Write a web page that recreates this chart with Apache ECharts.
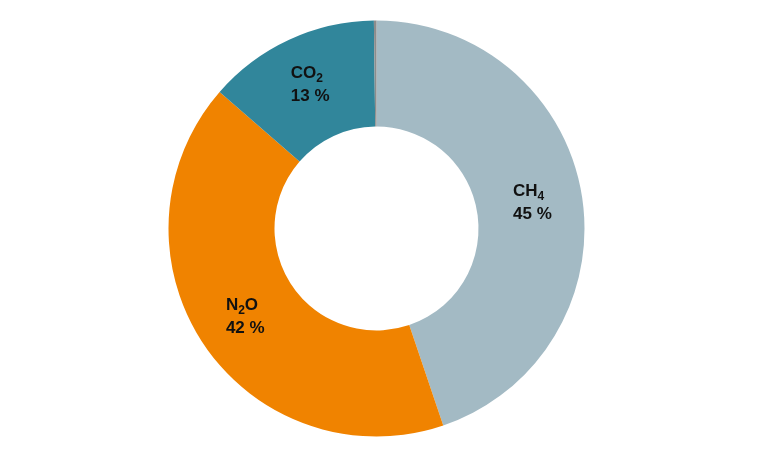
<!DOCTYPE html>
<html>
<head>
<meta charset="utf-8">
<script src="https://cdn.jsdelivr.net/npm/echarts@6/dist/echarts.min.js"></script>
<style>
  html, body { margin: 0; padding: 0; background: #fff; }
  #container { width: 780px; height: 451px; }
</style>
</head>
<body>
<div id="container"></div>
<script>
var dom = document.getElementById("container");
var myChart = echarts.init(dom);
var option;

// gas names (main part + subscript), shares in percent
var gasNames = ["CH4", "N2O", "CO2", "other"];
var gasMain = ["CH", "N", "CO", ""];
var gasSub = ["4", "2", "2", ""];
var gasTail = ["", "O", "", ""];
var gasValues = [44.8, 41.6, 13.4, 0.2];
var gasColors = ["#a3bac4", "#f08300", "#31869b", "#8c8c8c"];

var pieData = [];
for (var i = 0; i < gasNames.length; i++) {
  pieData.push({
    name: gasNames[i],
    value: gasValues[i],
    itemStyle: { color: gasColors[i] },
    label: { show: gasMain[i] !== "" },
  });
}

// label text with subscript for the chemical formula
function labelText(p) {
  var i = p.dataIndex;
  var s = "{m|" + gasMain[i] + "}{s|" + gasSub[i] + "}";
  if (gasTail[i]) s += "{m|" + gasTail[i] + "}";
  return s + "\n{m|" + Math.round(gasValues[i]) + " %}";
}

option = {
  animation: false,
  backgroundColor: "#ffffff",
  series: [
    {
      type: "pie",
      center: [376.5, 228.5],
      radius: [102, 208],
      startAngle: 90,
      clockwise: true,
      avoidLabelOverlap: false,
      data: pieData,
      itemStyle: { borderWidth: 0 },
      label: {
        position: "inside",
        formatter: labelText,
        rich: {
          m: {
            fontFamily: "Liberation Sans",
            fontWeight: "bold",
            fontSize: 17,
            color: "#111111",
            lineHeight: 23,
            align: "left",
          },
          s: {
            fontFamily: "Liberation Sans",
            fontWeight: "bold",
            fontSize: 12,
            color: "#111111",
            lineHeight: 23,
            verticalAlign: "bottom",
            padding: [8, 0, 0, 0],
            align: "left",
          },
        },
      },
      labelLine: { show: false },
      emphasis: { disabled: true },
    },
  ],
};

myChart.setOption(option);
</script>
</body>
</html>
